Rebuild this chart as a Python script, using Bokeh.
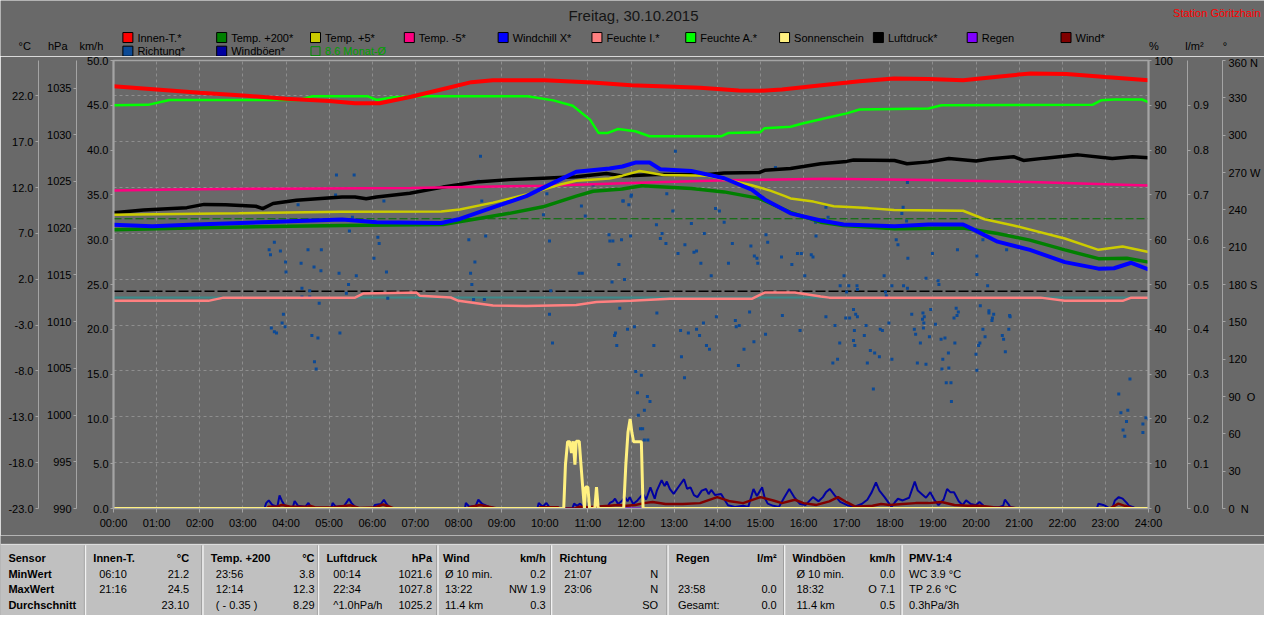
from bokeh.plotting import figure
from bokeh.models import Range1d, LinearAxis, FixedTicker, NumeralTickFormatter, Grid
from bokeh.layouts import column
from bokeh.core.properties import value
from bokeh.embed import file_html
from bokeh.resources import INLINE

FONT = "Liberation Sans"
BG = "#696969"
AXC = "#a4a4a4"
GRIDC = "#8e8e8e"
W, H = 1264, 615
SX, SY = W / 1280.0, H / 631.0   # layout drawn in the reference's pixel grid, scaled to fit

# ---------------- data ----------------
title_text = "Freitag, 30.10.2015"
station_text = "Station Göritzhain"

legend_row1 = ["Innen-T.*", "Temp. +200*", "Temp. +5*", "Temp. -5*", "Windchill X*", "Feuchte I.*",
               "Feuchte A.*", "Sonnenschein", "Luftdruck*", "Regen", "Wind*"]
legend_row1_colors = ["#ff0000", "#008000", "#cccc00", "#ff0080", "#0000ff", "#ff8080",
                      "#00ff00", "#fff080", "#000000", "#8000ff", "#800000"]
legend_row2 = ["Richtung*", "Windböen*"]
legend_row2_colors = ["#0c4a96", "#0000a0"]
month_avg_label = "8.6 Monat-Ø"

left_units = ["°C", "hPa", "km/h"]
right_units = ["%", "l/m²", "°"]

hour_ticks = list(range(25))
hour_labels = {h: "%02d:00" % h for h in hour_ticks}
degc_ticks = [-23, -18, -13, -8, -3, 2, 7, 12, 17, 22]
hpa_ticks = [990, 995, 1000, 1005, 1010, 1015, 1020, 1025, 1030, 1035]
kmh_ticks = [0, 5, 10, 15, 20, 25, 30, 35, 40, 45, 50]
pct_ticks = [0, 10, 20, 30, 40, 50, 60, 70, 80, 90, 100]
rain_ticks = [0.0, 0.1, 0.2, 0.3, 0.4, 0.5, 0.6, 0.7, 0.8, 0.9]
dir_ticks = [0, 30, 60, 90, 120, 150, 180, 210, 240, 270, 300, 330, 360]
dir_names = {0: "0\u00a0\u00a0N", 90: "90\u00a0\u00a0O", 180: "180 S", 270: "270 W", 360: "360 N"}

month_avg_c = 8.6
frost_c = 0.0
std_pressure = 1013.25

innen_t = [0, 1, 2, 3, 4, 5, 5.6, 6.17, 6.9, 7.6, 8.3, 8.8, 10.0, 11.1, 12.0, 13.0, 13.6, 14.5, 15.0,
           15.5, 16.2, 17.3, 18.1, 18.9, 19.7, 20.5, 21.27, 22.1, 23.0, 24.0]
innen_v = [23.05, 22.7, 22.35, 22.05, 21.7, 21.45, 21.2, 21.2, 21.9, 22.7, 23.5, 23.7, 23.7, 23.45, 23.15,
           23.0, 22.9, 22.6, 22.55, 22.7, 23.05, 23.6, 23.9, 23.85, 23.7, 24.1, 24.45, 24.4, 24.05, 23.7]

feuA_t = [0, 0.8, 1.3, 4.3, 4.6, 5.9, 6.1, 6.5, 7.0, 9.6, 10.2, 10.65, 11.05, 11.25, 11.45, 11.7, 12.1,
          12.43, 14.1, 14.25, 15.0, 15.1, 15.7, 16.0, 16.5, 17.0, 17.3, 18.9, 19.2, 22.7, 22.9, 23.2, 23.85, 24.0]
feuA_v = [90.0, 90.1, 91.2, 91.2, 92.0, 92.0, 91.2, 91.8, 92.0, 92.0, 91.1, 89.9, 86.8, 83.8, 83.8, 84.7,
          84.2, 83.1, 83.1, 83.8, 84.0, 84.9, 85.2, 86.0, 87.1, 88.2, 89.05, 89.3, 90.0, 90.1, 91.1, 91.3, 91.3, 90.7]

press_t = [0, 0.7, 1.7, 2.1, 2.6, 3.3, 3.46, 3.7, 4.24, 5.3, 5.6, 5.86, 6.1, 6.87, 7.64, 8.42, 9.18, 9.96,
           10.73, 11.43, 11.8, 12.59, 13.78, 14.16, 14.97, 15.1, 15.7, 16.4, 17.0, 17.16, 18.11, 18.4, 18.9,
           19.37, 20.0, 20.3, 20.87, 21.1, 21.6, 22.37, 23.16, 23.63, 24.0]
press_v = [1021.65, 1021.95, 1022.2, 1022.55, 1022.5, 1022.35, 1022.1, 1022.65, 1023.0, 1023.35, 1023.35,
           1023.15, 1023.35, 1023.75, 1024.4, 1024.95, 1025.2, 1025.35, 1025.5, 1025.85, 1025.6, 1025.75,
           1025.75, 1025.9, 1025.95, 1026.2, 1026.4, 1026.9, 1027.15, 1027.3, 1027.25, 1026.9, 1027.1,
           1027.45, 1027.2, 1027.4, 1027.65, 1027.25, 1027.5, 1027.85, 1027.45, 1027.65, 1027.55]

tm5_t = [0, 1.4, 3.8, 6.9, 10.0, 12.0, 14.2, 16.5, 18.9, 21.25, 24.0]
tm5_v = [11.67, 11.8, 11.88, 11.96, 12.2, 12.49, 12.81, 12.95, 12.84, 12.6, 12.24]

tp5_t = [0, 2.9, 5.3, 7.6, 8.03, 8.8, 9.57, 10.34, 10.73, 11.5, 11.8, 12.2, 12.75, 13.78, 14.8, 15.23,
         15.57, 15.7, 16.23, 16.7, 17.5, 18.1, 19.7, 20.2, 20.87, 22.06, 22.84, 23.4, 24.0]
tp5_v = [9.04, 9.19, 9.36, 9.4, 9.62, 10.36, 11.25, 12.3, 12.74, 13.0, 13.3, 13.8, 13.37, 13.3, 12.25,
         11.67, 11.07, 10.82, 10.47, 9.97, 9.76, 9.55, 9.47, 8.55, 7.87, 6.45, 5.21, 5.57, 4.97]

t200_t = [0, 2.0, 5.3, 7.64, 8.4, 9.18, 9.96, 10.73, 11.12, 11.8, 12.25, 13.4, 14.16, 14.97, 15.7, 16.4,
          16.93, 18.11, 19.7, 20.5, 21.25, 22.06, 22.84, 23.5, 24.0]
t200_v = [7.41, 7.63, 7.87, 7.98, 8.58, 9.19, 9.9, 11.07, 11.6, 11.85, 12.2, 11.9, 11.53, 10.82, 9.3, 8.23,
          7.87, 7.52, 7.6, 6.99, 6.27, 5.21, 4.25, 4.3, 3.87]

wc_t = [0, 0.9, 1.9, 5.3, 6.1, 7.6, 8.03, 8.8, 9.57, 10.34, 10.73, 11.5, 11.8, 12.1, 12.43, 12.68, 13.4,
        14.16, 14.8, 15.1, 15.7, 16.4, 16.93, 18.11, 18.9, 19.7, 19.9, 20.5, 21.25, 22.06, 22.84, 23.2, 23.6, 24.0]
wc_v = [7.95, 7.77, 7.98, 8.51, 8.23, 8.13, 8.58, 9.83, 11.07, 12.84, 13.73, 14.09, 14.3, 14.73, 14.73, 14.0,
        13.8, 13.02, 11.78, 10.71, 9.19, 8.41, 7.98, 7.77, 7.98, 7.98, 7.52, 6.1, 5.21, 3.87, 3.16, 3.2, 3.8, 3.08]

feuI_t = [0, 2.2, 2.55, 5.6, 5.8, 7.03, 7.1, 7.82, 8.0, 8.8, 9.57, 10.73, 11.2, 12.0, 12.9, 14.8, 15.1,
          15.8, 16.4, 16.6, 21.5, 22.06, 23.4, 23.6, 24.0]
feuI_v = [46.35, 46.35, 47.07, 47.07, 48.0, 48.2, 47.5, 47.1, 46.35, 45.33, 45.2, 45.4, 46.1, 46.35, 46.8,
          46.8, 48.2, 48.2, 47.3, 47.07, 47.07, 46.35, 46.35, 47.07, 47.07]

sun_t = [0, 10.44, 10.48, 10.53, 10.58, 10.62, 10.66, 10.70, 10.73, 10.80, 10.84, 10.88, 10.92, 10.95,
         11.00, 11.04, 11.16, 11.20, 11.24, 11.83, 11.88, 11.93, 11.98, 12.02, 12.06, 12.09, 12.24, 12.28, 24]
sun_v = [0, 0, 4.9, 7.45, 7.45, 6.2, 7.5, 4.9, 7.5, 7.5, 4.9, 2.4, 0, 2.4, 2.4, 0, 0, 2.4, 0, 0, 4.9, 8.5,
         10.0, 8.5, 7.45, 7.45, 7.45, 0, 0]

rain_t = [0, 24]
rain_v = [0.0, 0.0]

gust_t = [0, 3.5, 3.54, 3.6, 3.68, 3.8, 3.85, 3.9, 3.96, 4.05, 4.15, 4.2, 4.28, 4.45, 4.52, 4.58, 4.7, 5.05,
          5.08, 5.15, 5.35, 5.42, 5.46, 5.52, 5.6, 5.7, 6.02, 6.06, 6.2, 6.27, 6.33, 6.41, 6.5, 8.15, 8.17,
          8.25, 8.4, 8.46, 8.55, 8.7, 8.8, 8.85, 9.83, 9.86, 9.95, 10.04, 10.1, 10.27, 10.35, 10.64, 10.68,
          10.75, 10.82, 10.9, 11.0, 11.1, 11.25, 11.35, 11.45, 11.51, 11.58, 11.63, 11.7, 11.8, 11.86, 11.92,
          11.97, 12.05, 12.15, 12.28, 12.35, 12.45, 12.55, 12.6, 12.71, 12.78, 12.83, 12.9, 12.99, 13.1,
          13.23, 13.3, 13.38, 13.46, 13.54, 13.64, 13.74, 13.8, 13.86, 13.95, 14.09, 14.18, 14.25, 14.41,
          14.6, 14.72, 14.78, 14.84, 14.92, 15.04, 15.1, 15.17, 15.3, 15.43, 15.55, 15.67, 15.78, 15.91,
          16.05, 16.22, 16.35, 16.45, 16.52, 16.61, 16.72, 16.85, 17.0, 17.17, 17.35, 17.48, 17.58, 17.68,
          17.76, 17.88, 18.04, 18.12, 18.19, 18.3, 18.45, 18.58, 18.65, 18.74, 18.84, 18.94, 19.03, 19.13,
          19.25, 19.33, 19.41, 19.49, 19.6, 19.69, 19.77, 19.88, 20.0, 20.08, 20.2, 20.32, 20.5, 20.63,
          20.67, 20.75, 20.79, 20.9, 20.95, 22.8, 22.84, 22.95, 23.0, 23.1, 23.16, 23.22, 23.31, 23.4, 23.5,
          23.55, 23.63, 23.7, 24]
gust_v = [0, 0, 0.6, 0.91, 0.4, 0.2, 1.46, 0.9, 0.4, 0.1, 0, 0.84, 0.3, 0.2, 0.62, 0.1, 0, 0,
          0.62, 0.2, 0.3, 0.8, 1.09, 0.6, 0.2, 0, 0, 0.4, 0.5, 0.98, 0.5, 0.1, 0, 0, 0.62,
          0.2, 0.3, 0.98, 0.5, 0.2, 0.1, 0, 0, 0.62, 0.2, 0.62, 0.2, 0.1, 0, 0, 0.54,
          0.3, 0.54, 0.1, 0.2, 0.1, 0.3, 0.1, 0.2, 0.62, 0.8, 1.09, 0.5, 0.9, 1.27, 0.8,
          1.27, 0.5, 0.9, 1.63, 1.0, 2.36, 1.09, 2.0, 3.16, 2.5, 3.01, 2.2, 1.63, 2.4,
          3.27, 2.2, 2.36, 1.5, 1.27, 2.0, 2.18, 1.6, 2.07, 1.5, 1.63, 0.9, 0.37, 0.18,
          0.3, 0.18, 1.2, 2.18, 1.4, 2.36, 1.2, 0.54, 0.3, 0.18, 1.2, 2.18, 1.3, 0.54,
          0.4, 1.27, 0.8, 1.27, 1.8, 2.18, 1.5, 0.73, 0.4, 0.18, 0.5, 0.98, 1.8, 2.9,
          2.0, 1.27, 0.18, 0.7, 1.09, 0.9, 1.2, 3.0, 2.0, 1.63, 1.2, 1.82, 1.0, 0.37,
          1.0, 2.18, 1.8, 1.82, 0.8, 0.37, 0.91, 0.5, 0.37, 0.73, 0.2, 0.18, 0.1, 0.3,
          0.98, 0.5, 0.18, 0.05, 0, 0, 0.54, 0.4, 0.3, 0, 0, 0.9, 1.27, 1.1, 0.6,
          0.3, 0.18, 0, 0]

wind_t = [0, 3.55, 3.6, 3.8, 3.9, 4.0, 4.1, 4.5, 4.55, 4.7, 5.1, 5.5, 5.6, 5.7, 6.05, 6.25, 6.4, 6.5, 8.2,
          8.3, 8.5, 8.7, 8.9, 9.85, 9.9, 10.3, 10.35, 10.7, 10.8, 11.0, 11.5, 11.7, 11.9, 12.1, 12.3, 12.5,
          12.8, 13.2, 13.6, 14.0, 14.3, 14.6, 15.0, 15.3, 15.5, 15.8, 16.0, 16.3, 16.6, 16.8, 17.0, 17.2,
          17.6, 17.8, 18.0, 18.3, 18.6, 18.9, 19.2, 19.5, 19.8, 20.1, 20.4, 20.8, 21.0, 23.1, 23.3, 23.45,
          23.6, 23.7, 24]
wind_v = [0, 0, 0.2, 0.2, 0.4, 0.3, 0.2, 0.2, 0.3, 0.1, 0.15, 0.35, 0.2, 0.05, 0.1, 0.45, 0.2, 0, 0,
          0.2, 0.4, 0.2, 0, 0, 0.15, 0.15, 0, 0, 0.2, 0.15, 0.3, 0.4, 0.3, 0.4, 0.6, 0.73,
          0.5, 0.5, 0.6, 1.27, 0.8, 0.6, 1.27, 0.9, 0.6, 0.98, 0.6, 0.4, 0.8, 1.27, 0.7, 0.2,
          0.3, 0.5, 0.4, 0.5, 0.6, 0.6, 0.73, 0.4, 0.3, 0.3, 0.15, 0.1, 0, 0, 0.54, 0.3,
          0.1, 0, 0]

dir_h = [8.51, 5.17, 5.58, 8.47, 4.28, 6.27, 8.54, 5.15, 5.54, 9.97, 10.05, 11.12, 10.85, 10.94, 12.01, 11.82,
         8.63, 8.24, 10.11, 11.49, 11.51, 11.58, 11.78, 11.99, 5.47, 6.13, 6.16, 3.61, 3.64, 3.87, 3.73, 4.51,
         4.82, 3.99, 4.35, 4.65, 4.81, 4.0, 5.23, 5.63, 6.33, 6.04, 8.38, 8.28, 8.31, 8.6, 8.35, 4.37, 4.55,
         4.55, 4.37, 5.45, 5.4, 4.77, 6.36, 3.94, 10.11, 10.14, 10.8, 10.87, 11.72, 11.56, 11.85, 11.74,
         3.91, 3.98, 3.66, 3.73, 3.78, 4.6, 4.74, 5.25, 4.66, 4.7, 10.18, 11.62, 11.64, 11.67, 11.92,
         12.08, 12.11, 12.24, 12.15, 12.38, 12.44, 12.17, 12.31, 12.22, 12.27, 12.31, 12.39, 12.6, 12.53,
         13.15, 13.17, 13.24, 13.33, 13.52, 13.59, 13.68, 13.75, 13.82, 13.98, 14.42, 14.44, 14.51, 14.49,
         14.62, 14.75, 14.85, 15.12, 15.51, 15.92, 16.52, 16.73, 16.68, 16.79, 16.84, 16.98, 17.07, 17.16,
         17.19, 17.18, 17.41, 17.45, 17.48, 17.62, 17.55, 17.65, 17.76, 17.78, 17.83, 17.98, 18.05, 18.51,
         18.57, 18.6, 18.76, 18.79, 18.78, 18.71, 18.64, 18.84, 18.92, 19.06, 19.19, 19.28, 19.21, 19.23,
         19.36, 19.37, 19.31, 19.42, 19.43, 19.51, 19.49, 19.59, 20.0, 20.02, 20.06, 20.09, 20.16, 20.21,
         20.3, 20.41, 20.37, 20.61, 20.64, 20.68, 20.76, 20.79, 23.31, 23.57, 23.36, 23.52, 23.41, 23.45,
         23.49, 23.87, 23.87, 23.94, 24.0,
         13.03, 15.35, 18.41, 12.0, 12.83, 11.81, 11.95, 12.97, 13.96, 14.05, 14.16, 16.52, 16.57, 18.31,
         18.39, 18.28, 12.59, 12.72, 12.81, 12.68, 13.4, 13.7, 14.35, 14.78, 13.25, 13.09, 13.46, 13.52,
         13.62, 14.26, 13.86, 14.86, 14.92, 14.94, 15.13, 15.17, 15.49, 15.86, 15.95, 15.73, 16.28, 16.03,
         16.18, 16.22, 16.29, 16.85, 16.94, 17.05, 17.0, 17.24, 17.25, 17.16, 17.25, 17.21, 17.87, 17.92,
         17.9, 18.05, 18.15, 18.19, 18.42, 18.41, 18.32, 18.84, 18.99, 19.12, 19.14, 18.95, 18.77, 18.8,
         19.57, 19.54, 19.56, 20.16, 20.02, 20.02, 20.1, 20.27, 20.3, 20.38, 20.78, 20.71]
dir_deg = [283, 268, 268, 263, 244, 247, 247, 252, 234, 236, 253, 260, 243, 235, 252, 247,
           219, 216, 215, 220, 215, 215, 216, 219, 223, 218, 213, 208, 204, 207, 214, 208,
           208, 198, 197, 194, 191, 190, 189, 187, 190, 201, 198, 189, 180, 168, 168, 177, 175,
           170, 170, 180, 173, 165, 169, 156, 156, 175, 189, 189, 196, 182, 184, 161,
           149, 146, 145, 142, 141, 139, 137, 141, 118, 112, 133, 139, 141, 131, 144,
           146, 110, 107, 93, 90, 86, 75, 79, 64, 64, 55, 55, 157, 131,
           143, 122, 105, 141, 144, 139, 149, 131, 128, 154, 151, 146, 147, 115,
           128, 158, 134, 140, 155, 143, 154, 147, 117, 120, 133, 153, 153, 135,
           131, 143, 139, 147, 117, 96, 127, 125, 122, 144, 143, 149, 120, 156,
           144, 140, 152, 149, 145, 133, 117, 116, 138, 148, 136, 137, 112, 120,
           125, 113, 101, 101, 86, 133, 153, 158, 124, 111, 131, 133, 144, 138,
           157, 156, 151, 139, 136, 126, 144, 154, 92, 104, 77, 79, 63, 58,
           70, 68, 61, 73, 72,
           287, 274, 262, 251, 253, 247, 244, 239, 241, 239, 230, 242, 234, 242,
           231, 237, 228, 221, 213, 217, 229, 221, 213, 211, 212, 205, 206, 207,
           197, 197, 187, 203, 201, 197, 220, 214, 202, 205, 205, 196, 230, 187,
           204, 202, 219, 179, 187, 179, 174, 179, 176, 160, 154, 156, 187, 171,
           174, 179, 216, 212, 201, 177, 179, 185, 205, 183, 180, 160, 157, 154,
           208, 161, 155, 216, 203, 188, 163, 179, 159, 153, 155, 208]

sensor_rows = ["Sensor", "MinWert", "MaxWert", "Durchschnitt"]
block_names = ["Innen-T.", "Temp. +200", "Luftdruck", "Wind", "Richtung", "Regen", "Windböen", "PMV-1:4"]
block_units = ["°C", "°C", "hPa", "km/h", "", "l/m²", "km/h", ""]
block_left = [["06:10", "21:16", ""], ["23:56", "12:14", "( - 0.35 )"], ["00:14", "22:34", "^1.0hPa/h"],
              ["Ø 10 min.", "13:22", "11.4 km"], ["21:07", "23:06", ""], ["", "23:58", "Gesamt:"],
              ["Ø 10 min.", "18:32", "11.4 km"], ["WC 3.9 °C", "TP 2.6 °C", "0.3hPa/3h"]]
block_right = [["21.2", "24.5", "23.10"], ["3.8", "12.3", "8.29"], ["1021.6", "1027.8", "1025.2"],
               ["0.2", "NW 1.9", "0.3"], ["N", "N", "SO"], ["", "0.0", "0.0"],
               ["0.0", "O 7.1", "0.5"], ["", "", ""]]

# ---------------- layout (reference pixel grid) ----------------
sep_x = [86, 205, 322, 443, 558, 676, 794, 913]
name_x = [94, 213, 330, 448, 566, 684, 802, 920]
val_x = [100, 218, 337, 450, 571, 686, 806, 920]
right_x = [191, 318, 437, 552, 666, 786, 906]
row_y = [572, 588, 604, 620]
panel_top = 558

H1 = 56                       # header height
FT, FB = round(62 * SY), round(521.7 * SY)   # frame top / bottom in picture pixels
FL, FR = round(114 * SX), round(1163 * SX)   # frame left / right
H2 = 535 - H1                 # main figure height
H3 = H - H1 - H2              # table height


def X(v):
    return v * SX


def Y(v):
    return v * SY


# ---------------- header ----------------
hdr = figure(width=W, height=H1, x_range=Range1d(0, W), y_range=Range1d(H1, 0),
             x_axis_type=None, y_axis_type=None, output_backend="svg", toolbar_location=None,
             min_border=0, background_fill_color=BG, border_fill_color=BG, outline_line_color=None,
             frame_align=False)
hdr.grid.visible = False
hdr.text(x=[X(641)], y=[Y(15)], text=[title_text], text_align="center", text_baseline="middle",
         text_font=value(FONT), text_font_size="15px", text_color="#151515")
hdr.text(x=[X(1276)], y=[Y(13)], text=[station_text], text_align="right", text_baseline="middle",
         text_font=value(FONT), text_font_size="11px", text_color="#ff0000")
step = 95.0
r1x = [X(129 + i * step) for i in range(len(legend_row1))]
hdr.rect(x=r1x, y=[Y(38)] * len(r1x), width=10, height=10, width_units="screen", height_units="screen",
         fill_color=legend_row1_colors, line_color="#000000", line_width=1)
hdr.text(x=[v + 9.5 for v in r1x], y=[Y(38)] * len(r1x), text=legend_row1, text_baseline="middle",
         text_font=value(FONT), text_font_size="11px", text_color="#000000")
r2x = [X(129 + i * step) for i in range(len(legend_row2))]
hdr.rect(x=r2x, y=[Y(52)] * len(r2x), width=10, height=10, width_units="screen", height_units="screen",
         fill_color=legend_row2_colors, line_color="#000000", line_width=1)
hdr.text(x=[v + 9.5 for v in r2x], y=[Y(52)] * len(r2x), text=legend_row2, text_baseline="middle",
         text_font=value(FONT), text_font_size="11px", text_color="#000000")
mx = X(129 + 2 * step)
hdr.rect(x=[mx], y=[Y(52)], width=9, height=9, width_units="screen", height_units="screen",
         fill_color=None, line_color="#009000", line_width=1)
hdr.text(x=[mx + 9.5], y=[Y(52)], text=[month_avg_label], text_baseline="middle",
         text_font=value(FONT), text_font_size="11px", text_color="#00a000")
hdr.text(x=[X(24.5), X(58), X(92)], y=[Y(47)] * 3, text=left_units, text_align="center",
         text_baseline="middle", text_font=value(FONT), text_font_size="11px", text_color="#000000")
hdr.text(x=[X(1168), X(1209), X(1240)], y=[Y(47)] * 3, text=right_units, text_align="center",
         text_baseline="middle", text_font=value(FONT), text_font_size="11px", text_color="#000000")

# ---------------- main plot ----------------
p = figure(width=W, height=H2, x_range=Range1d(0, 24), y_range=Range1d(0, 50),
           output_backend="svg", toolbar_location=None,
           min_border_left=FL, min_border_right=W - FR, min_border_top=FT - H1,
           min_border_bottom=H2 - (FB - H1),
           background_fill_color=BG, border_fill_color=BG, outline_line_color=AXC, outline_line_width=1.5,
           frame_align=False)
p.extra_y_ranges = {"degc": Range1d(-23, 25.86), "hpa": Range1d(990, 1037.95),
                    "pct": Range1d(0, 100), "rain": Range1d(0, 1), "dir": Range1d(0, 360)}


def style_axis(ax, standoff, pad, tick_out=3):
    ax.axis_line_color = AXC
    ax.major_tick_line_color = AXC
    ax.minor_tick_line_color = None
    ax.major_tick_out = tick_out
    ax.major_tick_in = 0
    ax.major_label_text_font = FONT
    ax.major_label_text_font_size = "11px"
    ax.major_label_text_color = "#000000"
    ax.major_label_standoff = standoff
    if pad is not None:
        ax.axis_label = " "
        ax.axis_label_text_font_size = "1px"
        ax.axis_label_standoff = pad


ax_kmh = p.yaxis[0]
ax_kmh.ticker = FixedTicker(ticks=kmh_ticks)
ax_kmh.formatter = NumeralTickFormatter(format="0.0")
style_axis(ax_kmh, 2, 3)
ax_kmh.axis_line_width = 2

ax_hpa = LinearAxis(y_range_name="hpa", ticker=FixedTicker(ticks=hpa_ticks),
                    formatter=NumeralTickFormatter(format="0"))
style_axis(ax_hpa, 2, 1)
p.add_layout(ax_hpa, "left")

ax_c = LinearAxis(y_range_name="degc", ticker=FixedTicker(ticks=degc_ticks),
                  formatter=NumeralTickFormatter(format="0.0"))
style_axis(ax_c, 2, None)
p.add_layout(ax_c, "left")

ax_pct = LinearAxis(y_range_name="pct", ticker=FixedTicker(ticks=pct_ticks),
                    formatter=NumeralTickFormatter(format="0"))
style_axis(ax_pct, 3, 8)
ax_pct.axis_line_width = 2
p.add_layout(ax_pct, "right")

ax_rain = LinearAxis(y_range_name="rain", ticker=FixedTicker(ticks=rain_ticks),
                     formatter=NumeralTickFormatter(format="0.0"))
style_axis(ax_rain, 3, 7)
p.add_layout(ax_rain, "right")

ax_dir = LinearAxis(y_range_name="dir", ticker=FixedTicker(ticks=dir_ticks),
                    formatter=NumeralTickFormatter(format="0"))
ax_dir.major_label_overrides = dir_names
style_axis(ax_dir, 3, None)
p.add_layout(ax_dir, "right")

xa = p.xaxis[0]
xa.ticker = FixedTicker(ticks=hour_ticks)
xa.major_label_overrides = hour_labels
style_axis(xa, 4, None, tick_out=4)

p.xgrid.grid_line_color = GRIDC
p.xgrid.grid_line_dash = "3 3"
p.ygrid.visible = False
p.add_layout(Grid(dimension=1, ticker=FixedTicker(ticks=degc_ticks), y_range_name="degc",
                  grid_line_color=GRIDC, grid_line_dash="3 3"))

# reference lines
p.line([0, 24], [frost_c, frost_c], y_range_name="degc", line_color="#3d8a8a", line_width=2)
p.line([0, 24], [month_avg_c, month_avg_c], y_range_name="degc", line_color="#007000",
       line_width=1, line_dash="8 3")
p.line([0, 24], [std_pressure, std_pressure], y_range_name="hpa", line_color="#000000",
       line_width=1.5, line_dash="10 3")

# wind direction dots
p.scatter(dir_h, dir_deg, y_range_name="dir", marker="square", size=3,
          fill_color="#0c4a96", line_color=None)

# series
p.line(feuI_t, feuI_v, y_range_name="pct", line_color="#ff8080", line_width=2.5)
p.line(feuA_t, feuA_v, y_range_name="pct", line_color="#00ff00", line_width=2.5)
p.line(press_t, press_v, y_range_name="hpa", line_color="#000000", line_width=3.5)
p.line(tm5_t, tm5_v, y_range_name="degc", line_color="#ff0080", line_width=2.5)
p.line(tp5_t, tp5_v, y_range_name="degc", line_color="#cccc00", line_width=2.5)
p.line(t200_t, t200_v, y_range_name="degc", line_color="#008000", line_width=3.5)
p.line(wc_t, wc_v, y_range_name="degc", line_color="#0000ff", line_width=4)
p.line(innen_t, innen_v, y_range_name="degc", line_color="#ff0000", line_width=4)
p.line(rain_t, rain_v, y_range_name="rain", line_color="#8000ff", line_width=2)
p.line(gust_t, gust_v, line_color="#0000a0", line_width=2)
p.line(wind_t, wind_v, line_color="#800000", line_width=2.5)
p.line(sun_t, sun_v, line_color="#fff080", line_width=3)

# ---------------- table ----------------
T0 = H1 + H2
tb = figure(width=W, height=H3, x_range=Range1d(0, W), y_range=Range1d(H, T0),
            x_axis_type=None, y_axis_type=None, output_backend="svg", toolbar_location=None,
            min_border=0, background_fill_color=BG, border_fill_color=BG, outline_line_color=None,
            frame_align=False)
tb.grid.visible = False
tb.quad(left=[0], right=[W], top=[Y(panel_top)], bottom=[H], fill_color="#c0c0c0", line_color=None)
tb.segment(x0=[0], y0=[Y(panel_top)], x1=[W], y1=[Y(panel_top)], line_color="#e6e6e6", line_width=1)
sx = [X(s) for s in sep_x]
tb.segment(x0=[s - 1 for s in sx], y0=[Y(panel_top) + 1] * len(sx), x1=[s - 1 for s in sx],
           y1=[H] * len(sx), line_color="#8a8a8a", line_width=1)
tb.segment(x0=sx, y0=[Y(panel_top) + 1] * len(sx), x1=sx, y1=[H] * len(sx),
           line_color="#f2f2f2", line_width=1.5)

bold = dict(text_font=value(FONT), text_font_size="11px", text_font_style="bold",
            text_color="#000000", text_baseline="middle")
norm = dict(text_font=value(FONT), text_font_size="11px", text_color="#000000", text_baseline="middle")

ry_ = [Y(v) for v in row_y]
tb.text(x=[X(8)] * 4, y=ry_, text=sensor_rows, **bold)
tb.text(x=[X(v) for v in name_x], y=[ry_[0]] * len(name_x), text=block_names, **bold)
tb.text(x=[X(v) for v in right_x], y=[ry_[0]] * len(right_x), text=block_units[:7], text_align="right", **bold)
lx, ly, lt, rx, ryy, rt = [], [], [], [], [], []
for b in range(len(block_names)):
    for r in range(3):
        lx.append(X(val_x[b])); ly.append(ry_[r + 1]); lt.append(block_left[b][r])
        if b < len(right_x):
            rx.append(X(right_x[b])); ryy.append(ry_[r + 1]); rt.append(block_right[b][r])
tb.text(x=lx, y=ly, text=lt, **norm)
tb.text(x=rx, y=ryy, text=rt, text_align="right", **norm)

layout = column(hdr, p, tb, spacing=0)
open("out.html", "w").write(file_html(layout, INLINE))
